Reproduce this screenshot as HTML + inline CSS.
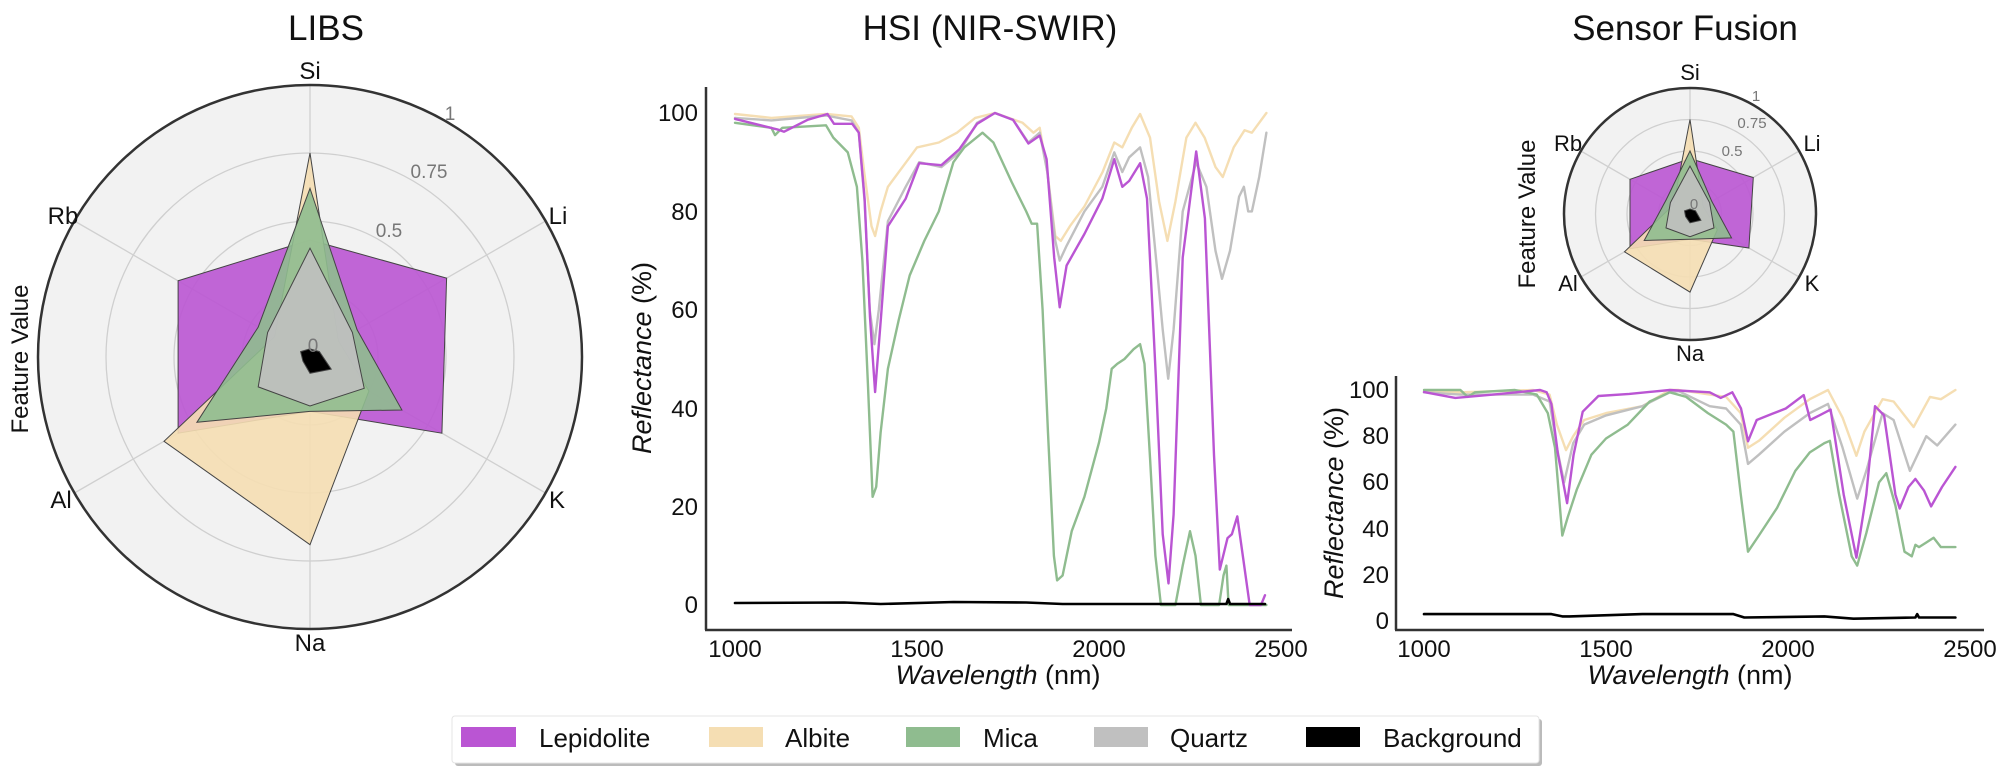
<!DOCTYPE html>
<html><head><meta charset="utf-8"><style>
body{margin:0;background:#fff;}
svg{display:block;font-family:"Liberation Sans",Arial,sans-serif;}
</style></head><body>
<svg id="s" width="2006" height="774" viewBox="0 0 2006 774" xmlns="http://www.w3.org/2000/svg">
<rect width="2006" height="774" fill="#fff"/>
<text x="326" y="40" font-size="35" text-anchor="middle" fill="#111">LIBS</text>
<text x="990" y="40" font-size="35" text-anchor="middle" fill="#111">HSI (NIR-SWIR)</text>
<text x="1685" y="40" font-size="35" text-anchor="middle" fill="#111">Sensor Fusion</text>

<g id="radar1"></g>
<g id="radar2"></g>

<g font-size="24" fill="#111" text-anchor="middle">
<text x="310" y="79">Si</text>
<text x="558" y="224">Li</text>
<text x="557" y="508">K</text>
<text x="310" y="651">Na</text>
<text x="61" y="508">Al</text>
<text x="63" y="224">Rb</text>
</g>
<g font-size="19" fill="#777" text-anchor="middle">
<text x="450" y="120">1</text>
<text x="429" y="178">0.75</text>
<text x="389" y="237">0.5</text>
<text x="313" y="352">0</text>
</g>
<text transform="translate(28,359) rotate(-90)" font-size="24" text-anchor="middle" fill="#111">Feature Value</text>

<g font-size="22" fill="#111" text-anchor="middle">
<text x="1690" y="80">Si</text>
<text x="1812" y="151">Li</text>
<text x="1812" y="291">K</text>
<text x="1690" y="361">Na</text>
<text x="1568" y="291">Al</text>
<text x="1568" y="151">Rb</text>
</g>
<g font-size="15" fill="#777" text-anchor="middle">
<text x="1756" y="101">1</text>
<text x="1752" y="128">0.75</text>
<text x="1732" y="156">0.5</text>
<text x="1694" y="209">0</text>
</g>
<text transform="translate(1535,214) rotate(-90)" font-size="24" text-anchor="middle" fill="#111">Feature Value</text>

<g id="mid"></g>
<line x1="706" y1="87" x2="706" y2="630" stroke="#333" stroke-width="2.5"/>
<line x1="705" y1="630" x2="1292" y2="630" stroke="#333" stroke-width="2.5"/>
<g font-size="24" fill="#111" text-anchor="end">
<text x="698" y="121">100</text><text x="698" y="220">80</text><text x="698" y="318">60</text>
<text x="698" y="417">40</text><text x="698" y="515">20</text><text x="698" y="613">0</text>
</g>
<g font-size="24" fill="#111" text-anchor="middle">
<text x="735" y="657">1000</text><text x="917" y="657">1500</text><text x="1099" y="657">2000</text><text x="1281" y="657">2500</text>
</g>
<text x="998" y="684" font-size="27" text-anchor="middle" fill="#111"><tspan font-style="italic">Wavelength</tspan> (nm)</text>
<text transform="translate(651,358) rotate(-90)" font-size="27" text-anchor="middle" fill="#111"><tspan font-style="italic">Reflectance</tspan> (%)</text>

<g id="rgt"></g>
<line x1="1396" y1="376" x2="1396" y2="630" stroke="#333" stroke-width="2.5"/>
<line x1="1395" y1="630" x2="1984" y2="630" stroke="#333" stroke-width="2.5"/>
<g font-size="24" fill="#111" text-anchor="end">
<text x="1389" y="398">100</text><text x="1389" y="444">80</text><text x="1389" y="490">60</text>
<text x="1389" y="537">40</text><text x="1389" y="583">20</text><text x="1389" y="629">0</text>
</g>
<g font-size="24" fill="#111" text-anchor="middle">
<text x="1424" y="657">1000</text><text x="1606" y="657">1500</text><text x="1788" y="657">2000</text><text x="1970" y="657">2500</text>
</g>
<text x="1690" y="684" font-size="27" text-anchor="middle" fill="#111"><tspan font-style="italic">Wavelength</tspan> (nm)</text>
<text transform="translate(1343,503) rotate(-90)" font-size="27" text-anchor="middle" fill="#111"><tspan font-style="italic">Reflectance</tspan> (%)</text>

<rect x="455" y="719" width="1087" height="47" rx="3" fill="#bbb"/>
<rect x="452" y="716" width="1087" height="47" rx="3" fill="#fff" stroke="#e4e4e4" stroke-width="1"/>
<rect x="461" y="727" width="55" height="20" fill="#ba55d3"/>
<rect x="709" y="727" width="54" height="20" fill="#f5deb3"/>
<rect x="906" y="727" width="54" height="20" fill="#8fbc8f"/>
<rect x="1094" y="727" width="54" height="20" fill="#c0c0c0"/>
<rect x="1306" y="727" width="54" height="20" fill="#000"/>
<g font-size="26" fill="#111">
<text x="539" y="747">Lepidolite</text>
<text x="785" y="747">Albite</text>
<text x="983" y="747">Mica</text>
<text x="1170" y="747">Quartz</text>
<text x="1383" y="747">Background</text>
</g>
</svg>
<script>
var NS="http://www.w3.org/2000/svg";
function el(p,t,a){var e=document.createElementNS(NS,t);for(var k in a)e.setAttribute(k,a[k]);p.appendChild(e);return e;}
var angs=[90,30,-30,-90,-150,150].map(function(d){return d*Math.PI/180;});
function radar(id,cx,cy,R,sets){
  var g=document.getElementById(id);
  el(g,"circle",{cx:cx,cy:cy,r:R,fill:"#f2f2f2"});
  [0.25,0.5,0.75].forEach(function(f){el(g,"circle",{cx:cx,cy:cy,r:R*f,fill:"none",stroke:"#cfcfcf","stroke-width":1.3});});
  angs.forEach(function(a){el(g,"line",{x1:cx,y1:cy,x2:cx+R*Math.cos(a),y2:cy-R*Math.sin(a),stroke:"#d0d0d0","stroke-width":1.3});});
  sets.forEach(function(s){
    var pts=s.v.map(function(v,i){return (cx+R*v*Math.cos(angs[i])).toFixed(1)+","+(cy-R*v*Math.sin(angs[i])).toFixed(1);}).join(" ");
    el(g,"polygon",{points:pts,fill:s.c,"fill-opacity":s.o||0.9,stroke:"#444","stroke-width":1});
  });
  el(g,"circle",{cx:cx,cy:cy,r:R,fill:"none",stroke:"#333","stroke-width":2.5});
}
radar("radar1",310,357,272,[
 {c:"#ba55d3",v:[.43,.58,.56,.2,.56,.56]},
 {c:"#f5deb3",v:[.75,.12,.25,.69,.62,.15]},
 {c:"#8fbc8f",v:[.62,.2,.39,.2,.48,.22]},
 {c:"#c0c0c0",v:[.4,.18,.23,.18,.22,.18]},
 {c:"#000",o:1,v:[.03,.04,.09,.06,.03,.04]}
]);
radar("radar2",1690,214,126,[
 {c:"#ba55d3",v:[.44,.58,.54,.2,.55,.55]},
 {c:"#f5deb3",v:[.75,.12,.25,.62,.6,.15]},
 {c:"#8fbc8f",v:[.5,.2,.38,.2,.42,.22]},
 {c:"#c0c0c0",v:[.38,.18,.22,.18,.22,.18]},
 {c:"#000",o:1,v:[.04,.05,.1,.07,.04,.05]}
]);
function spec(id,x0,y0,ky,series){
  var g=document.getElementById(id);
  series.forEach(function(s){
    var d="";
    for(var i=0;i<s.d.length;i+=2){
      var x=x0+(s.d[i]-1000)*0.364, y=y0-s.d[i+1]*ky;
      d+=(i?"L":"M")+x.toFixed(1)+","+y.toFixed(1);
    }
    el(g,"path",{d:d,fill:"none",stroke:s.c,"stroke-width":s.w||2.4,"stroke-linejoin":"round","stroke-linecap":"round"});
  });
}
var midS=[
{c:"#f5deb3",d:[1000,99.8,1100,99,1250,99.8,1320,99.3,1340,97,1355,88,1375,77,1385,75,1400,80,1420,85,1470,90,1500,93,1560,94,1610,96,1660,99,1714,100,1790,98,1820,96,1837,97,1858,88,1880,75,1895,74,1920,77,1960,81,2010,88,2042,94,2064,93,2090,97,2113,99.8,2140,95,2165,82,2188,74,2210,82,2240,95,2265,98,2290,95,2320,89,2340,87,2370,93,2400,96.5,2420,96,2460,100]},
{c:"#c0c0c0",d:[1000,99,1100,98.5,1250,99.5,1320,98.5,1340,96,1356,82,1370,60,1383,53,1395,60,1420,78,1469,85,1506,90,1567,89,1616,92,1665,98,1714,100,1764,98.6,1806,94,1837,96,1858,88,1880,74,1892,70,1911,73,1960,80,2009,85,2042,92,2064,88,2083,91,2113,93,2135,87,2160,68,2175,56,2190,46,2205,56,2230,80,2267,90,2295,85,2320,72,2338,66.3,2360,72,2385,83,2398,85,2410,80,2420,80,2440,87,2460,96]},
{c:"#8fbc8f",d:[1000,98,1100,97,1110,95.5,1130,97,1250,97.5,1270,95,1310,92,1335,85,1350,70,1365,45,1378,22,1388,24,1400,35,1420,48,1450,58,1480,67,1520,74,1560,80,1600,90,1630,93,1680,96,1710,94,1760,86,1800,80,1815,77.5,1830,77.5,1845,60,1860,35,1876,10,1885,5,1900,6,1925,15,1960,22,2000,33,2020,40,2035,48,2050,49,2070,50,2095,52,2113,53,2125,49,2140,30,2155,10,2170,0,2210,0,2230,8,2250,15,2265,10,2280,0,2330,0,2342,6,2350,8,2356,0,2460,0]},
{c:"#ba55d3",d:[1000,98.8,1119,96.6,1135,96.2,1199,98.6,1254,99.8,1272,97.8,1322,97.8,1340,96,1356,82.6,1371,58.5,1385,43.3,1401,58.5,1420,77,1469,82.6,1506,89.8,1567,89.4,1616,92.6,1665,97.8,1714,100,1764,98.6,1806,93.8,1837,95.4,1856,90.6,1877,70.6,1892,60.5,1911,69,1960,75.4,2009,82.6,2042,90.6,2064,85,2083,86.2,2113,89.8,2132,82.6,2156,46.5,2175,14.4,2191,4.4,2205,18.4,2230,70.6,2267,92.2,2291,78.6,2316,30.5,2332,7.2,2353,13.6,2365,14.4,2380,18,2396,9.6,2414,0,2445,0,2456,2]},
{c:"#000",w:2.6,d:[1000,0.4,1300,0.5,1400,0.2,1600,0.6,1800,0.5,1900,0.2,2350,0.2,2355,1.2,2360,0.2,2456,0.2]}
];
spec("mid",735,605,4.92,midS);
var rgtS=[
{c:"#f5deb3",d:[1000,99.5,1100,99,1300,100,1345,98,1365,85,1390,74,1410,80,1440,87,1500,90,1600,93,1675,100,1700,100,1785,98,1830,97,1870,90,1890,75,1920,78,1990,88,2060,96,2110,100,2150,88,2188,71.5,2210,82,2260,96,2290,95,2345,84,2390,97,2420,96,2460,100]},
{c:"#c0c0c0",d:[1000,99,1100,98,1300,98,1345,95,1365,75,1385,60,1410,77,1440,85,1500,89,1600,93,1675,99,1700,99.5,1785,93,1830,92,1870,85,1890,68,1920,72,1990,82,2060,90,2110,94,2150,75,2190,53,2215,65,2260,90,2290,87,2335,65,2380,80,2410,76,2460,85]},
{c:"#8fbc8f",d:[1000,100,1100,100,1120,97,1140,99,1250,100,1310,98,1340,90,1360,75,1380,37,1395,45,1420,57,1460,72,1500,79,1560,85,1620,95,1675,99,1720,97,1780,90,1830,85,1850,82,1870,55,1890,30,1920,37,1970,49,2020,65,2060,73,2100,77,2115,78,2140,55,2175,28,2190,24,2215,38,2250,60,2270,64,2295,50,2320,30,2340,28,2350,33,2360,32,2380,34,2400,36,2420,32,2460,32]},
{c:"#ba55d3",d:[1000,99.1,1086,96.6,1209,98.3,1319,100,1337,99,1350,94,1368,72,1393,51,1411,72,1436,90.6,1479,97.4,1564,98.3,1675,100,1785,99,1815,96.6,1847,99,1871,92,1890,77.8,1914,87,1957,89.7,1994,92,2043,97.8,2061,87,2086,89,2117,91.5,2153,54.7,2188,27.4,2215,54.7,2239,93,2264,89,2295,54.7,2307,48.7,2331,58,2350,61.5,2374,56.4,2393,49.6,2423,58,2460,66.7]},
{c:"#000",w:2.6,d:[1000,3,1350,3,1380,2,1400,2,1600,3,1850,3,1880,1.5,2100,2,2180,1,2350,1.5,2355,3,2360,1.5,2460,1.5]}
];
spec("rgt",1424,621,2.31,rgtS);
</script>
</body></html>
